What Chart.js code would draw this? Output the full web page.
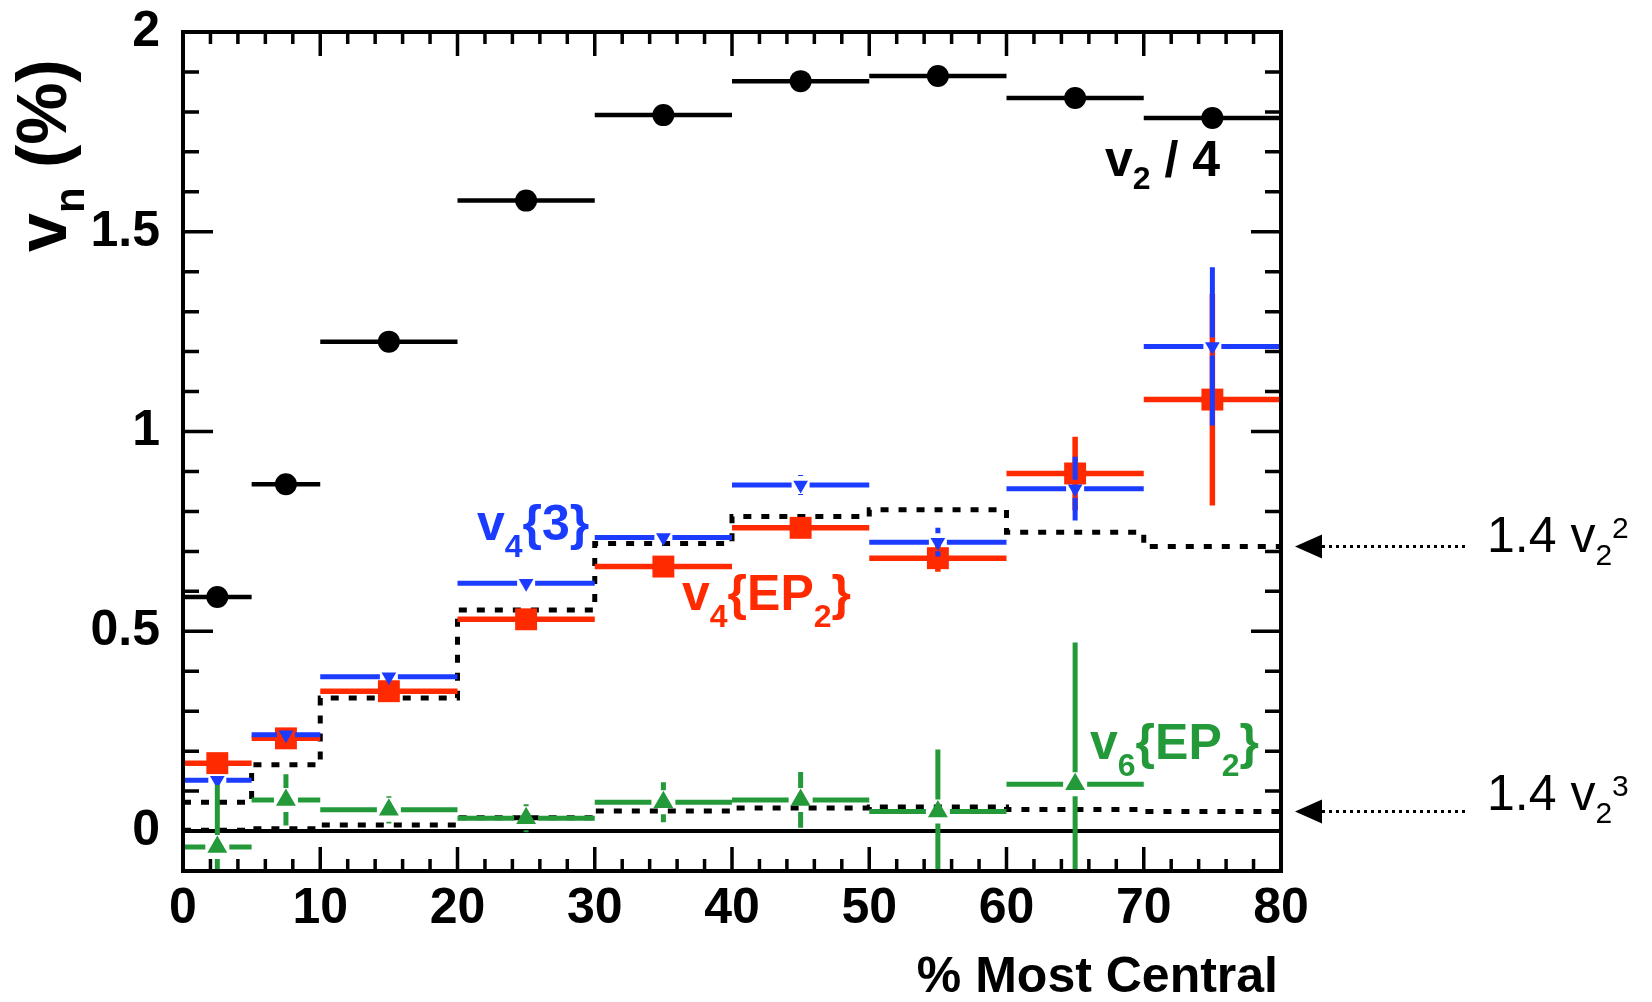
<!DOCTYPE html>
<html>
<head>
<meta charset="utf-8">
<title>vn vs centrality</title>
<script src="https://cdn.jsdelivr.net/npm/chart.js@4.4.1/dist/chart.umd.min.js"></script>
<style>
  body { margin: 0; background: #fff; }
  #wrap { width: 1652px; height: 1002px; }
</style>
</head>
<body>
<div id="wrap"><canvas id="vnChart" width="1652" height="1002"></canvas></div>
<script>
// centrality bins (% most central)
var binLo  = [0, 5, 10, 20, 30, 40, 50, 60, 70];
var binHi  = [5, 10, 20, 30, 40, 50, 60, 70, 80];
var binMid = [2.5, 7.5, 15, 25, 35, 45, 55, 65, 75];

// v2 / 4  (%)
var v2Quarter    = [0.586, 0.868, 1.225, 1.578, 1.792, 1.877, 1.89, 1.835, 1.785];
var v2QuarterErr = [0, 0, 0, 0, 0, 0, 0, 0, 0];

// v4{3}  (%)
var v4Three    = [0.127, 0.241, 0.386, 0.62, 0.735, 0.866, 0.723, 0.857, 1.213];
var v4ThreeErr = [0.01, 0.01, 0.01, 0.01, 0.012, 0.025, 0.036, 0.08, 0.198];

// v4{EP2}  (%)
var v4Ep2    = [0.17, 0.232, 0.35, 0.53, 0.662, 0.759, 0.683, 0.895, 1.08];
var v4Ep2Err = [0.01, 0.01, 0.01, 0.01, 0.01, 0.012, 0.034, 0.092, 0.265];

// v6{EP2}  (%), no point in the last bin
var v6Ep2    = [-0.04, 0.078, 0.053, 0.032, 0.072, 0.078, 0.049, 0.117, null];
var v6Ep2Err = [0.155, 0.064, 0.034, 0.035, 0.05, 0.07, 0.155, 0.355, null];

// 1.4 v2^2 and 1.4 v2^3 reference steps (%)
var v2SqScaled   = [0.072, 0.166, 0.333, 0.553, 0.72, 0.787, 0.804, 0.748, 0.712];
var v2CubeScaled = [0.002, 0.006, 0.015, 0.033, 0.05, 0.058, 0.06, 0.054, 0.049];

var xTickVals = [0, 10, 20, 30, 40, 50, 60, 70, 80];
var yTickVals = [0, 0.5, 1, 1.5, 2];

var FONT = "'Liberation Sans', Arial, Helvetica, sans-serif";
var BLUE = '#1b3cff', RED = '#ff2a00', GREEN = '#23993a';

function pts(vals) {
  var out = [];
  vals.forEach(function (v, i) { if (v !== null) out.push({x: binMid[i], y: v}); });
  return out;
}
function steps(vals) {
  var out = vals.map(function (v, i) { return {x: binLo[i], y: v}; });
  out.push({x: binHi[binHi.length - 1], y: vals[vals.length - 1]});
  return out;
}

// horizontal bin bars + vertical error bars, drawn right before each marker set
function drawBars(chart, bars) {
  var ctx = chart.ctx, xs = chart.scales.x, ys = chart.scales.y, a = chart.chartArea;
  ctx.save();
  ctx.beginPath();
  ctx.rect(a.left, a.top, a.right - a.left, a.bottom - a.top);
  ctx.clip();
  ctx.strokeStyle = bars.color;
  ctx.lineWidth = bars.width;
  ctx.lineCap = 'butt';
  bars.vals.forEach(function (v, i) {
    if (v === null) return;
    var px = xs.getPixelForValue(binMid[i]), py = ys.getPixelForValue(v);
    var l = xs.getPixelForValue(binLo[i]), r = xs.getPixelForValue(binHi[i]);
    var g = bars.gap;
    ctx.beginPath();
    ctx.moveTo(l, py); ctx.lineTo(px - g, py);
    ctx.moveTo(px + g, py); ctx.lineTo(r, py);
    var e = bars.err[i];
    if (e) {
      var top = ys.getPixelForValue(v + e), bot = ys.getPixelForValue(v - e);
      if (py - top > g) { ctx.moveTo(px, py - g); ctx.lineTo(px, top); }
      if (bot - py > g) { ctx.moveTo(px, py + g); ctx.lineTo(px, bot); }
    }
    ctx.stroke();
  });
  ctx.restore();
}

var errorBars = {
  id: 'errorBars',
  beforeDatasetDraw: function (chart, args) {
    var ds = chart.data.datasets[args.index];
    if (ds.bars) drawBars(chart, ds.bars);
  }
};

// frame, inward ticks and the zero line
var frame = {
  id: 'frame',
  beforeDatasetsDraw: function (chart) {
    var ctx = chart.ctx, a = chart.chartArea, y0 = chart.scales.y.getPixelForValue(0);
    ctx.save();
    ctx.strokeStyle = '#000';
    ctx.lineWidth = 4;
    ctx.beginPath();
    ctx.moveTo(a.left, y0); ctx.lineTo(a.right, y0);
    ctx.stroke();
    ctx.restore();
  },
  afterDatasetsDraw: function (chart) {
    var ctx = chart.ctx, a = chart.chartArea, xs = chart.scales.x, ys = chart.scales.y;
    ctx.save();
    ctx.strokeStyle = '#000';
    ctx.lineWidth = 3.5;
    ctx.beginPath();
    for (var i = 0; i < 20; i++) {
      var py = ys.getPixelForValue(i / 10);
      var len = i % 5 === 0 ? 30 : 16;
      ctx.moveTo(a.left, py); ctx.lineTo(a.left + len, py);
      ctx.moveTo(a.right, py); ctx.lineTo(a.right - len, py);
    }
    for (var k = 2; k < 80; k += 2) {
      var px = xs.getPixelForValue(k);
      var tl = k % 10 === 0 ? 24 : 12;
      ctx.moveTo(px, a.bottom); ctx.lineTo(px, a.bottom - tl);
      ctx.moveTo(px, a.top); ctx.lineTo(px, a.top + tl);
    }
    ctx.stroke();
    ctx.lineWidth = 4;
    ctx.strokeRect(a.left, a.top, a.right - a.left, a.bottom - a.top);
    ctx.restore();
  }
};

function textRuns(ctx, x, y, parts, color, weight) {
  ctx.fillStyle = color;
  ctx.textAlign = 'left';
  ctx.textBaseline = 'alphabetic';
  parts.forEach(function (p) {
    ctx.font = weight + ' ' + p[1] + 'px ' + FONT;
    ctx.fillText(p[0], x, y + (p[2] || 0));
    x += ctx.measureText(p[0]).width;
  });
}

function arrow(ctx, y) {
  ctx.save();
  ctx.strokeStyle = '#000';
  ctx.fillStyle = '#000';
  ctx.lineWidth = 3;
  ctx.setLineDash([3, 4]);
  ctx.beginPath();
  ctx.moveTo(1322, y); ctx.lineTo(1469, y);
  ctx.stroke();
  ctx.beginPath();
  ctx.moveTo(1295, y); ctx.lineTo(1322, y - 12); ctx.lineTo(1322, y + 12);
  ctx.closePath();
  ctx.fill();
  ctx.restore();
}

var labels = {
  id: 'labels',
  afterDraw: function (chart) {
    var ctx = chart.ctx, ys = chart.scales.y;
    ctx.save();
    textRuns(ctx, 1105, 176, [['v', 50], ['2', 32, 13], [' / 4', 50]], '#000', 'bold');
    textRuns(ctx, 477, 540, [['v', 50], ['4', 32, 17], ['{3}', 50]], BLUE, 'bold');
    textRuns(ctx, 682, 610, [['v', 50], ['4', 32, 17], ['{EP', 50], ['2', 32, 17], ['}', 50]], RED, 'bold');
    textRuns(ctx, 1090, 759, [['v', 50], ['6', 32, 17], ['{EP', 50], ['2', 32, 17], ['}', 50]], GREEN, 'bold');

    var ySq = ys.getPixelForValue(v2SqScaled[v2SqScaled.length - 1]);
    var yCube = ys.getPixelForValue(v2CubeScaled[v2CubeScaled.length - 1]);
    arrow(ctx, ySq);
    arrow(ctx, yCube);
    textRuns(ctx, 1487, 552, [['1.4 v', 50], ['2', 30, 13], ['2', 30, -14]], '#000', 'normal');
    textRuns(ctx, 1487, 810, [['1.4 v', 50], ['2', 30, 13], ['3', 30, -14]], '#000', 'normal');

    // axis titles
    ctx.fillStyle = '#000';
    ctx.font = 'bold 50px ' + FONT;
    ctx.textAlign = 'right';
    ctx.fillText('% Most Central', 1278, 992);

    ctx.translate(66, 252);
    ctx.rotate(-Math.PI / 2);
    textRuns(ctx, 0, 0, [['v', 70], ['n', 42, 18], [' (%)', 70]], '#000', 'bold');
    ctx.restore();
  }
};

var ctx = document.getElementById('vnChart').getContext('2d');
var vnChart = new Chart(ctx, {
  type: 'scatter',
  data: {
    datasets: [
      {
        label: 'v6{EP2}', data: pts(v6Ep2), order: 0,
        pointStyle: 'triangle', pointRadius: 11.5, pointBackgroundColor: GREEN, pointBorderWidth: 0,
        bars: {vals: v6Ep2, err: v6Ep2Err, color: GREEN, width: 5, gap: 12}
      },
      {
        label: 'v4{3}', data: pts(v4Three), order: 1,
        pointStyle: 'triangle', pointRotation: 180, pointRadius: 8.5, pointBackgroundColor: BLUE, pointBorderWidth: 0,
        bars: {vals: v4Three, err: v4ThreeErr, color: BLUE, width: 5, gap: 9}
      },
      {
        label: 'v4{EP2}', data: pts(v4Ep2), order: 2,
        pointStyle: 'rect', pointRadius: 15.5, pointBackgroundColor: RED, pointBorderWidth: 0,
        bars: {vals: v4Ep2, err: v4Ep2Err, color: RED, width: 5.5, gap: 0}
      },
      {
        label: 'v2/4', data: pts(v2Quarter), order: 3,
        pointStyle: 'circle', pointRadius: 11, pointBackgroundColor: '#000', pointBorderWidth: 0,
        bars: {vals: v2Quarter, err: v2QuarterErr, color: '#000', width: 4.5, gap: 0}
      },
      {
        type: 'line', label: '1.4 v2^2', data: steps(v2SqScaled), order: 4,
        stepped: true, borderColor: '#000', borderWidth: 5, borderDash: [8, 10],
        pointRadius: 0, fill: false
      },
      {
        type: 'line', label: '1.4 v2^3', data: steps(v2CubeScaled), order: 5,
        stepped: true, borderColor: '#000', borderWidth: 5, borderDash: [8, 10],
        pointRadius: 0, fill: false
      }
    ]
  },
  options: {
    responsive: false,
    animation: false,
    events: [],
    layout: { padding: { left: 0, right: 371, top: 32, bottom: 0 } },
    plugins: { legend: { display: false }, tooltip: { enabled: false } },
    scales: {
      x: {
        type: 'linear', min: 0, max: 80,
        grid: { display: false }, border: { display: false },
        afterBuildTicks: function (s) { s.ticks = xTickVals.map(function (v) { return {value: v}; }); },
        afterFit: function (s) { s.height = 131; s.paddingLeft = 0; s.paddingRight = 0; },
        ticks: { color: '#000', padding: 0, maxRotation: 0, autoSkip: false,
                 font: { family: FONT, size: 50, weight: 'bold' },
                 callback: function (v) { return String(v); } }
      },
      y: {
        type: 'linear', min: -0.1, max: 2,
        grid: { display: false }, border: { display: false },
        afterBuildTicks: function (s) { s.ticks = yTickVals.map(function (v) { return {value: v}; }); },
        afterFit: function (s) { s.width = 183; s.paddingTop = 0; s.paddingBottom = 0; },
        ticks: { color: '#000', padding: 15, autoSkip: false,
                 font: { family: FONT, size: 50, weight: 'bold' },
                 callback: function (v) { return String(v); } }
      }
    }
  },
  plugins: [errorBars, frame, labels]
});
</script>
</body>
</html>
